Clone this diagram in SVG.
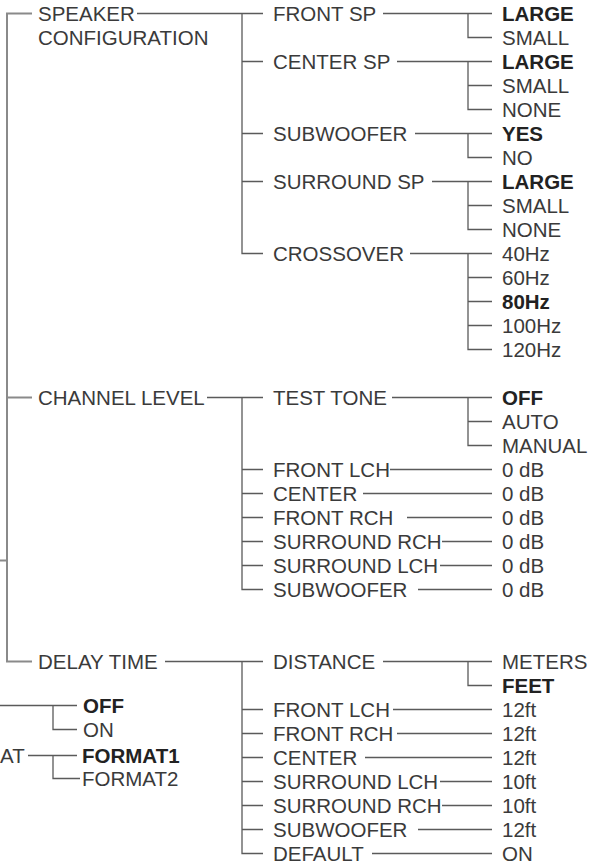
<svg xmlns="http://www.w3.org/2000/svg" width="602" height="865" viewBox="0 0 602 865">
<style>
text{font-family:"Liberation Sans",Arial,sans-serif;font-size:20.5px;fill:#3a3a3a}
.b{font-weight:bold;fill:#222}
.c{stroke:#5a5a5a;stroke-width:1.3;fill:none}
.m{stroke:#8a8a8a;stroke-width:2;fill:none}
</style>
<rect width="602" height="865" fill="#fff"/>
<g id="connectors">
<path class="m" d="M0 560.5H7M32 13.5H7V661.5H32M7 397.5H32"/>
<path class="c" d="M137 13.5H263M242 13.5V253.5H263M242 61.5H263M242 133.5H263M242 181.5H263"/>
<path class="c" d="M207 397.5H263M242 397.5V589.5H263M242 469.5H263M242 493.5H263M242 517.5H263M242 541.5H263M242 565.5H263"/>
<path class="c" d="M165 661.5H263M242 661.5V853.5H263M242 709.5H263M242 733.5H263M242 757.5H263M242 781.5H263M242 805.5H263M242 829.5H263"/>
<path class="c" d="M383 13.5H492M468 13.5V37.5H492"/>
<path class="c" d="M397 61.5H492M468 61.5V109.5H492M468 85.5H492"/>
<path class="c" d="M415 133.5H492M468 133.5V157.5H492"/>
<path class="c" d="M432 181.5H492M468 181.5V229.5H492M468 205.5H492"/>
<path class="c" d="M410 253.5H492M468 253.5V349.5H492M468 277.5H492M468 301.5H492M468 325.5H492"/>
<path class="c" d="M392 397.5H492M468 397.5V445.5H492M468 421.5H492"/>
<path class="c" d="M390 469.5H492M363 493.5H492M407 517.5H492M442 541.5H492M440 565.5H492M418 589.5H492"/>
<path class="c" d="M383 661.5H492M468 661.5V685.5H492"/>
<path class="c" d="M393 709.5H492M397 733.5H492M365 757.5H492M440 781.5H492M442 805.5H492M418 829.5H492M372 853.5H492"/>
<path class="c" d="M0 705.5H77M53 705.5V729.5H77"/>
<path class="c" d="M28 755.5H77M53 755.5V778.5H80"/>
</g>
<g id="n-speaker"><text x="38" y="20.5">SPEAKER</text><text x="38" y="44.5">CONFIGURATION</text></g>
<g id="n-channel"><text x="38" y="404.5">CHANNEL LEVEL</text></g>
<g id="n-delay"><text x="38" y="668.5">DELAY TIME</text></g>
<g id="n-front-sp"><text x="273" y="20.5">FRONT SP</text><text class="b" x="502" y="20.5">LARGE</text><text x="502" y="44.5">SMALL</text></g>
<g id="n-center-sp"><text x="273" y="68.5">CENTER SP</text><text class="b" x="502" y="68.5">LARGE</text><text x="502" y="92.5">SMALL</text><text x="502" y="116.5">NONE</text></g>
<g id="n-sub"><text x="273" y="140.5">SUBWOOFER</text><text class="b" x="502" y="140.5">YES</text><text x="502" y="164.5">NO</text></g>
<g id="n-surr-sp"><text x="273" y="188.5">SURROUND SP</text><text class="b" x="502" y="188.5">LARGE</text><text x="502" y="212.5">SMALL</text><text x="502" y="236.5">NONE</text></g>
<g id="n-cross"><text x="273" y="260.5">CROSSOVER</text><text x="502" y="260.5">40Hz</text><text x="502" y="284.5">60Hz</text><text class="b" x="502" y="308.5">80Hz</text><text x="502" y="332.5">100Hz</text><text x="502" y="356.5">120Hz</text></g>
<g id="n-test"><text x="273" y="404.5">TEST TONE</text><text class="b" x="502" y="404.5">OFF</text><text x="502" y="428.5">AUTO</text><text x="502" y="452.5">MANUAL</text></g>
<g id="n-cl-levels">
<text x="273" y="476.5">FRONT LCH</text><text x="502" y="476.5">0 dB</text>
<text x="273" y="500.5">CENTER</text><text x="502" y="500.5">0 dB</text>
<text x="273" y="524.5">FRONT RCH</text><text x="502" y="524.5">0 dB</text>
<text x="273" y="548.5">SURROUND RCH</text><text x="502" y="548.5">0 dB</text>
<text x="273" y="572.5">SURROUND LCH</text><text x="502" y="572.5">0 dB</text>
<text x="273" y="596.5">SUBWOOFER</text><text x="502" y="596.5">0 dB</text>
</g>
<g id="n-distance"><text x="273" y="668.5">DISTANCE</text><text x="502" y="668.5">METERS</text><text class="b" x="502" y="692.5">FEET</text></g>
<g id="n-dt-values">
<text x="273" y="716.5">FRONT LCH</text><text x="502" y="716.5">12ft</text>
<text x="273" y="740.5">FRONT RCH</text><text x="502" y="740.5">12ft</text>
<text x="273" y="764.5">CENTER</text><text x="502" y="764.5">12ft</text>
<text x="273" y="788.5">SURROUND LCH</text><text x="502" y="788.5">10ft</text>
<text x="273" y="812.5">SURROUND RCH</text><text x="502" y="812.5">10ft</text>
<text x="273" y="836.5">SUBWOOFER</text><text x="502" y="836.5">12ft</text>
<text x="273" y="860.5">DEFAULT</text><text x="502" y="860.5">ON</text>
</g>
<g id="n-offon"><text class="b" x="83" y="712.5">OFF</text><text x="83" y="736.5">ON</text></g>
<g id="n-format"><text x="0" y="762.5">AT</text><text class="b" x="82" y="762.5">FORMAT1</text><text x="82" y="785.5">FORMAT2</text></g>
</svg>
